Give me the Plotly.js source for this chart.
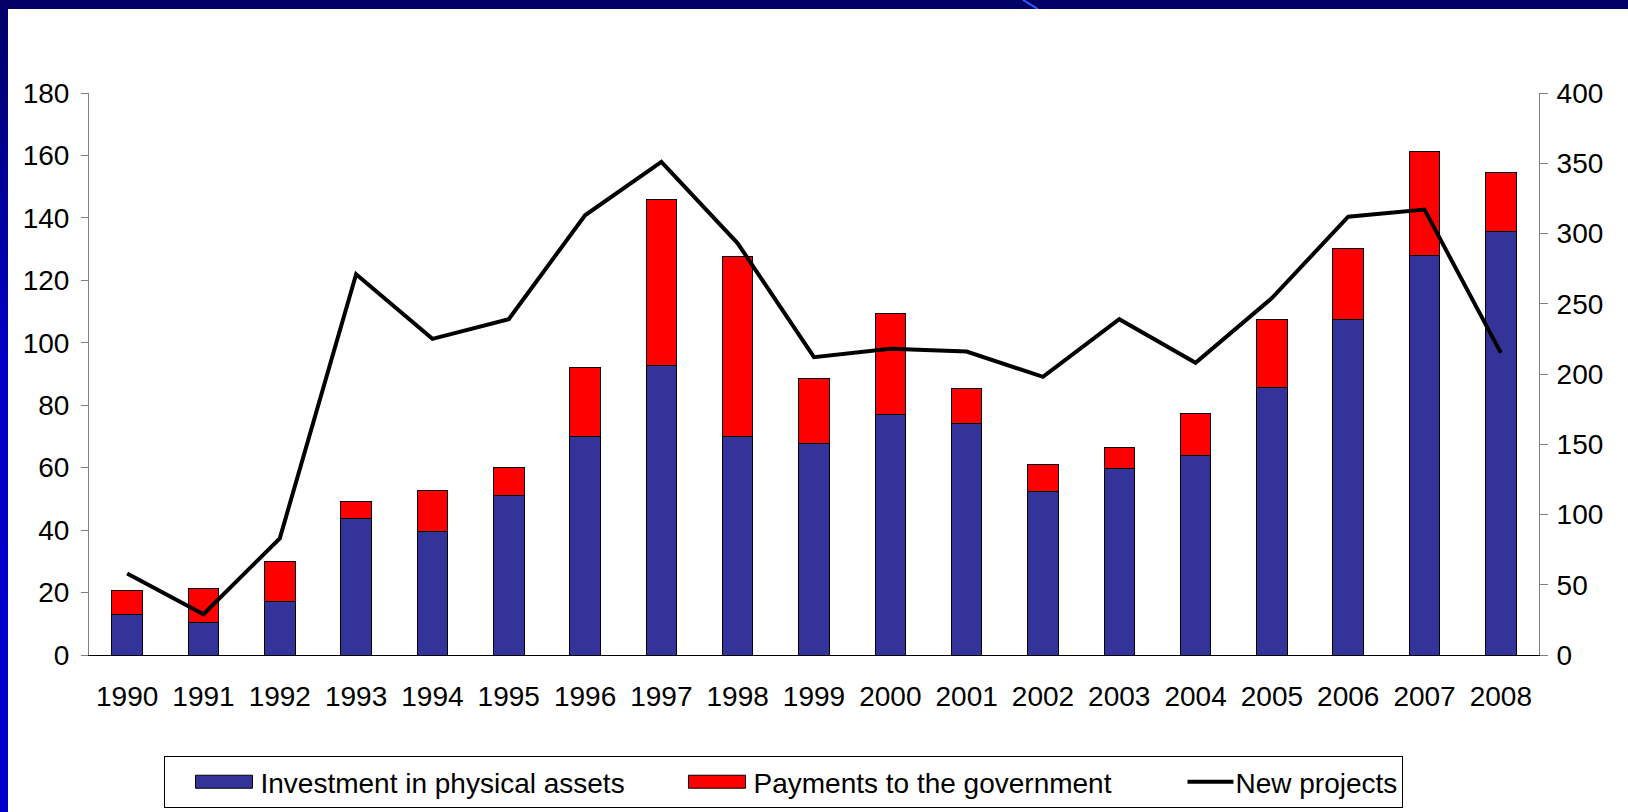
<!DOCTYPE html>
<html>
<head>
<meta charset="utf-8">
<script src="https://cdn.plot.ly/plotly-3.0.1.min.js"></script>
<style>
  html, body { margin:0; padding:0; overflow:hidden; background:#ffffff; }
  #bgLeft { position:absolute; left:0; top:0; width:8px; height:812px;
            background:linear-gradient(#000066 0%, #0000c8 45%, #0000cc 100%); }
  #bgTop { position:absolute; left:0; top:0; width:1628px; height:9px; background:#000066; }
  #deco { position:absolute; left:1015px; top:0; width:40px; height:9px; }
  #chart { position:absolute; left:8px; top:9px; width:1620px; height:803px; }
</style>
</head>
<body>
<div id="bgLeft"></div>
<div id="bgTop"></div>
<svg id="deco" width="40" height="9"><line x1="8" y1="0" x2="23" y2="9" stroke="#2a5cff" stroke-width="2"/></svg>
<div id="chart"></div>
<script>
// ---- data ----
var years = ['1990','1991','1992','1993','1994','1995','1996','1997','1998','1999',
             '2000','2001','2002','2003','2004','2005','2006','2007','2008'];
var investment = [13.1, 10.3, 17.2, 43.6, 39.4, 51.2, 69.9, 92.7, 69.9, 67.9,
                  76.9, 74.0, 52.5, 59.6, 63.8, 85.8, 107.3, 128.1, 135.8];
var payments   = [7.7, 11.0, 12.6, 5.7, 13.2, 9.0, 22.2, 53.3, 57.6, 20.7,
                  32.5, 11.2, 8.4, 6.9, 13.7, 21.5, 22.9, 33.2, 18.6];
var newProjects = [58, 29, 83, 271, 225, 239, 313, 351, 293, 212,
                   218, 216, 198, 239, 208, 254, 312, 317, 215];
var seriesNames = ['Investment in physical assets', 'Payments to the government', 'New projects'];
var leftTicks = [0, 20, 40, 60, 80, 100, 120, 140, 160, 180];
var rightTicks = [0, 50, 100, 150, 200, 250, 300, 350, 400];

var FONT = 'Liberation Sans, Arial, sans-serif';
var FS = 28;

var data = [
  { type:'bar', name:seriesNames[0], x:years, y:investment, yaxis:'y',
    marker:{ color:'#333399', line:{ color:'#000000', width:1 } },
    legendwidth: 393 },
  { type:'bar', name:seriesNames[1], x:years, y:payments, yaxis:'y',
    marker:{ color:'#ff0000', line:{ color:'#000000', width:1 } },
    legendwidth: 382 },
  { type:'scatter', mode:'lines', name:seriesNames[2], x:years, y:newProjects, yaxis:'y2',
    line:{ color:'#000000', width:4 } }
];

var layout = {
  width:1620, height:803,
  margin:{ l:81, r:89, t:84, b:157 },
  paper_bgcolor:'#ffffff', plot_bgcolor:'#ffffff',
  font:{ family:FONT, size:FS, color:'#000000' },
  barmode:'stack', bargap:0.6,
  showlegend:true,
  legend:{ orientation:'h', xref:'paper', x:0.4793, xanchor:'center',
           yref:'container', y:0.0697, yanchor:'top',
           bordercolor:'#000000', borderwidth:1, bgcolor:'#ffffff',
           font:{ family:FONT, size:FS, color:'#000000' },
           itemwidth:85, traceorder:'normal' },
  xaxis:{ type:'category', showline:true, linecolor:'#000000', linewidth:1, automargin:false,
          ticks:'', showgrid:false, zeroline:false, ticklabelstandoff:16,
          tickfont:{ family:FONT, size:FS, color:'#000000' } },
  yaxis:{ range:[0,180], tickvals:leftTicks, showline:true, linecolor:'#808080', linewidth:1,
          automargin:false, ticks:'outside', ticklen:7, tickcolor:'#808080',
          showgrid:false, zeroline:false, ticklabelstandoff:6,
          tickfont:{ family:FONT, size:FS, color:'#000000' } },
  yaxis2:{ range:[0,400], tickvals:rightTicks, overlaying:'y', side:'right', showline:true,
           automargin:false, linecolor:'#808080', linewidth:1, ticks:'outside', ticklen:8,
           tickcolor:'#808080', showgrid:false, zeroline:false, ticklabelstandoff:3,
           tickfont:{ family:FONT, size:FS, color:'#000000' } }
};

Plotly.newPlot('chart', data, layout, { displayModeBar:false, staticPlot:true }).then(function(gd){
  // widen legend swatches to match the reference look
  var items = gd.querySelectorAll('.legend .traces');
  items.forEach(function(tr){
    var bars = tr.querySelectorAll('.legendpoints path.legendundefined, .legendpoints path.legendbar');
    bars.forEach(function(p){
      p.setAttribute('d', 'M30,-6.5H87V6.5H30Z');
      p.setAttribute('transform', '');
    });
    var lines = tr.querySelectorAll('.legendlines path');
    lines.forEach(function(p){
      p.setAttribute('d', 'M47,0H93');
      p.setAttribute('transform', '');
    });
  });
});
</script>
</body>
</html>
